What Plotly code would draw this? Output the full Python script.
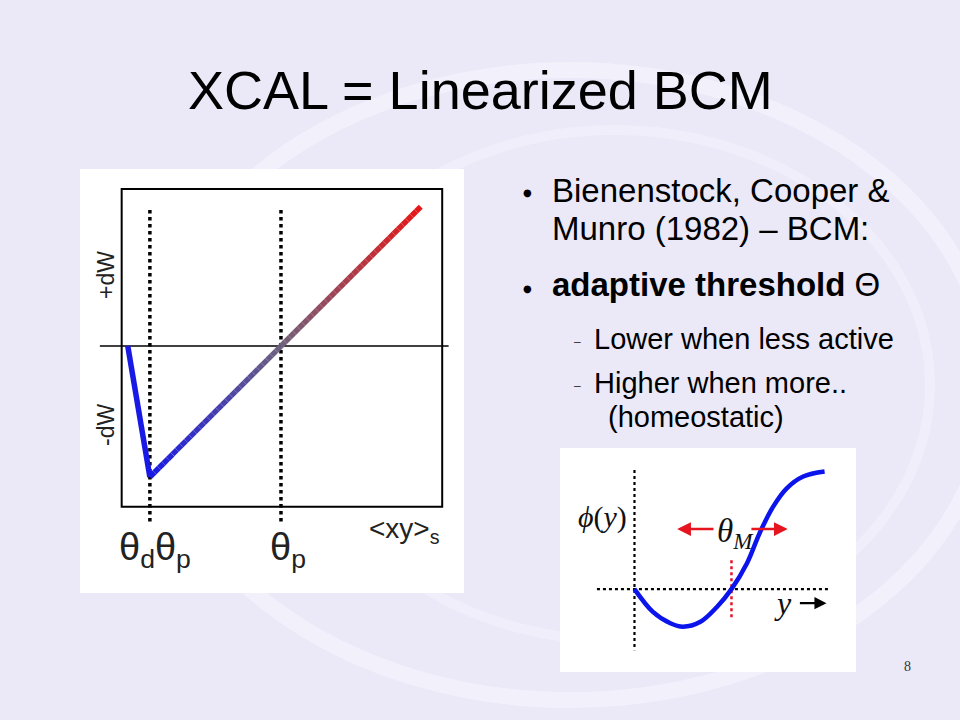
import numpy as np
import plotly.graph_objects as go

# ---------------- data ----------------
# Left panel: linearized BCM (XCAL) curve, x in box units (0..1), y in dW units
xcal_x = [0.019, 0.088, 0.497, 0.933]
xcal_y = [0.0, -0.834, 0.0, 0.887]
theta_d = 0.088
theta_p = 0.497

# Right panel: BCM phi(y) curve
phi_x = [0.0, 0.19, 0.37, 0.50, 0.68, 0.85, 1.0, 1.16, 1.29, 1.43, 1.57, 1.74, 1.96]
phi_y = [0.0, -0.60, -0.90, -0.99, -0.86, -0.47, 0.0, 0.68, 1.47, 2.17, 2.65, 2.96, 3.09]
theta_m = 1.0

title_text = "XCAL = Linearized BCM"
bullets_l1 = ["Bienenstock, Cooper &", "Munro (1982) – BCM:", "<b>adaptive threshold</b> Θ"]
bullets_l2 = ["Lower when less active", "Higher when more..", "(homeostatic)"]

# ---------------- helpers ----------------
W, H = 960, 720
def px(x):
    return x / W
def py(y):
    return 1 - y / H

FONT = "Liberation Sans, Arial, sans-serif"
SERIF = "Liberation Serif, DejaVu Serif, serif"

fig = go.Figure()

# ---- left panel gradient line ----
fig.add_trace(go.Scatter(x=xcal_x[:2], y=xcal_y[:2], mode="lines",
                         line=dict(color="rgb(25,25,230)", width=5.5),
                         xaxis="x", yaxis="y", showlegend=False, hoverinfo="skip"))

stops = [(0.0, (25, 25, 230)), (0.484, (112, 98, 125)), (1.0, (232, 22, 22))]
def col(t):
    for (t0, c0), (t1, c1) in zip(stops[:-1], stops[1:]):
        if t <= t1:
            f = (t - t0) / (t1 - t0)
            return "rgb(%d,%d,%d)" % tuple(int(round(a + (b - a) * f)) for a, b in zip(c0, c1))
    return "rgb(%d,%d,%d)" % stops[-1][1]

x0, y0 = xcal_x[1], xcal_y[1]
x1, y1 = xcal_x[3], xcal_y[3]
N = 60
ts = np.linspace(0, 1, N + 1)
for i in range(N):
    ta, tb = ts[i], ts[i + 1]
    fig.add_trace(go.Scatter(
        x=[x0 + (x1 - x0) * ta, x0 + (x1 - x0) * tb],
        y=[y0 + (y1 - y0) * ta, y0 + (y1 - y0) * tb],
        mode="lines", line=dict(color=col((ta + tb) / 2), width=5.5),
        xaxis="x", yaxis="y", showlegend=False, hoverinfo="skip"))

# ---- right panel phi curve ----
fig.add_trace(go.Scatter(x=phi_x, y=phi_y, mode="lines",
                         line=dict(color="rgb(10,20,235)", width=4.5, shape="spline", smoothing=1.0),
                         xaxis="x2", yaxis="y2", showlegend=False, hoverinfo="skip"))

shapes = []
# faint background swirl (slide decoration)
shapes.append(dict(type="circle", xref="paper", yref="paper", x0=px(150), x1=px(990),
                   y0=py(700), y1=py(70), line=dict(color="rgba(255,255,255,0.35)", width=16),
                   layer="below"))
shapes.append(dict(type="circle", xref="paper", yref="paper", x0=px(300), x1=px(930),
                   y0=py(640), y1=py(130), line=dict(color="rgba(255,255,255,0.25)", width=10),
                   layer="below"))
# left box
shapes.append(dict(type="rect", xref="x", yref="y", x0=0, x1=1, y0=-1.024, y1=1.0,
                   line=dict(color="black", width=2), layer="below"))
# zero line
shapes.append(dict(type="line", xref="x", yref="y", x0=-0.068, x1=1.02, y0=0, y1=0,
                   line=dict(color="black", width=1.5), layer="below"))
# dotted verticals
for xv in [theta_d, theta_p]:
    shapes.append(dict(type="line", xref="x", yref="y", x0=xv, x1=xv, y0=0.866, y1=-1.127,
                       line=dict(color="black", width=3.5, dash="dot"), layer="below"))
# right panel dotted axes
shapes.append(dict(type="line", xref="x2", yref="y2", x0=0, x1=0, y0=3.13, y1=-1.61,
                   line=dict(color="black", width=2.2, dash="dot"), layer="below"))
shapes.append(dict(type="line", xref="x2", yref="y2", x0=-0.387, x1=1.995, y0=0, y1=0,
                   line=dict(color="black", width=2.2, dash="dot"), layer="below"))
shapes.append(dict(type="line", xref="x2", yref="y2", x0=theta_m, x1=theta_m, y0=0.76, y1=-0.82,
                   line=dict(color="rgb(230,20,40)", width=2.5, dash="dot"), layer="below"))

ann = []
# title
ann.append(dict(x=px(480), y=py(90), xref="paper", yref="paper", text=title_text, showarrow=False,
                font=dict(family=FONT, size=54, color="black"), xanchor="center", yanchor="middle"))
# level 1 bullets
l1_y = [191, 228, 285]
for t, yy in zip(bullets_l1, l1_y):
    ann.append(dict(x=px(550), y=py(yy), xref="paper", yref="paper", text=t, showarrow=False,
                    font=dict(family=FONT, size=33, color="black"), xanchor="left", yanchor="middle"))
for yy in [193, 288]:
    ann.append(dict(x=px(527), y=py(yy), xref="paper", yref="paper", text="●", showarrow=False,
                    font=dict(family="DejaVu Sans, sans-serif", size=10, color="black"),
                    xanchor="center", yanchor="middle"))
# level 2
l2 = [(592, 339), (592, 383), (606, 417)]
for t, (xx, yy) in zip(bullets_l2, l2):
    ann.append(dict(x=px(xx), y=py(yy), xref="paper", yref="paper", text=t, showarrow=False,
                    font=dict(family=FONT, size=29, color="black"), xanchor="left", yanchor="middle"))
for yy in [342, 386]:
    ann.append(dict(x=px(577), y=py(yy), xref="paper", yref="paper", text="–", showarrow=False,
                    font=dict(family=FONT, size=12, color="#333"), xanchor="center", yanchor="middle"))
# slide number
ann.append(dict(x=px(907), y=py(666), xref="paper", yref="paper", text="8", showarrow=False,
                font=dict(family=SERIF, size=14, color="#333"), xanchor="center", yanchor="middle"))

# left panel labels
ann.append(dict(x=px(106), y=py(275), xref="paper", yref="paper", text="+dW", textangle=-90,
                showarrow=False, font=dict(family=FONT, size=23, color="#222"),
                xanchor="center", yanchor="middle"))
ann.append(dict(x=px(106), y=py(425), xref="paper", yref="paper", text="-dW", textangle=-90,
                showarrow=False, font=dict(family=FONT, size=23, color="#222"),
                xanchor="center", yanchor="middle"))
ann.append(dict(x=theta_d, y=py(550), xref="x", yref="paper", text="θ<sub>d</sub>θ<sub>p</sub>",
                showarrow=False, font=dict(family=FONT, size=38, color="#222"),
                xanchor="center", yanchor="middle", xshift=5))
ann.append(dict(x=theta_p, y=py(550), xref="x", yref="paper", text="θ<sub>p</sub>",
                showarrow=False, font=dict(family=FONT, size=38, color="#222"),
                xanchor="center", yanchor="middle", xshift=7))
ann.append(dict(x=px(404), y=py(530), xref="paper", yref="paper", text="&lt;xy&gt;<sub>s</sub>",
                showarrow=False, font=dict(family=FONT, size=28, color="#222"),
                xanchor="center", yanchor="middle"))

# right panel labels
ann.append(dict(x=-0.33, y=1.89, xref="x2", yref="y2", text="<i>ϕ</i>(<i>y</i>)", showarrow=False,
                font=dict(family=SERIF, size=30, color="#111"), xanchor="center", yanchor="middle"))
ann.append(dict(x=1.04, y=1.45, xref="x2", yref="y2", text="<i>θ</i><sub><i>M</i></sub>", showarrow=False,
                font=dict(family=SERIF, size=33, color="#111"), xanchor="center", yanchor="middle"))
ann.append(dict(x=1.53, y=-0.37, xref="x2", yref="y2", text="<i>y</i>", showarrow=False,
                font=dict(family=SERIF, size=32, color="#111"), xanchor="center", yanchor="middle"))
# arrows
ann.append(dict(x=0.44, y=1.58, ax=0.83, ay=1.58, xref="x2", yref="y2", axref="x2", ayref="y2",
                text="", showarrow=True, arrowhead=2, arrowsize=1.1, arrowwidth=2.5,
                arrowcolor="rgb(230,20,30)"))
ann.append(dict(x=1.58, y=1.58, ax=1.19, ay=1.58, xref="x2", yref="y2", axref="x2", ayref="y2",
                text="", showarrow=True, arrowhead=2, arrowsize=1.1, arrowwidth=2.5,
                arrowcolor="rgb(230,20,30)"))
ann.append(dict(x=1.98, y=-0.37, ax=1.69, ay=-0.37, xref="x2", yref="y2", axref="x2", ayref="y2",
                text="", showarrow=True, arrowhead=2, arrowsize=1.1, arrowwidth=2.2,
                arrowcolor="black"))

ax_common = dict(showgrid=False, zeroline=False, showticklabels=False, ticks="",
                 showline=False, fixedrange=True)
fig.update_layout(
    width=W, height=H, margin=dict(l=0, r=0, t=0, b=0),
    paper_bgcolor="#EBE9F8", plot_bgcolor="white",
    xaxis=dict(domain=[80 / W, 464 / W], range=[-0.130, 1.068], **ax_common),
    yaxis=dict(domain=[1 - 593 / H, 1 - 169 / H], range=[-1.573, 1.127], **ax_common),
    xaxis2=dict(domain=[560 / W, 856 / W], range=[-0.768, 2.284], anchor="y2", **ax_common),
    yaxis2=dict(domain=[1 - 672 / H, 1 - 448 / H], range=[-2.18, 3.71], anchor="x2", **ax_common),
    shapes=shapes, annotations=ann, showlegend=False,
)

fig.write_html("out.html", config={"displayModeBar": False},
               post_script="document.body.style.margin='0';document.body.style.background='#EBE9F8';")
